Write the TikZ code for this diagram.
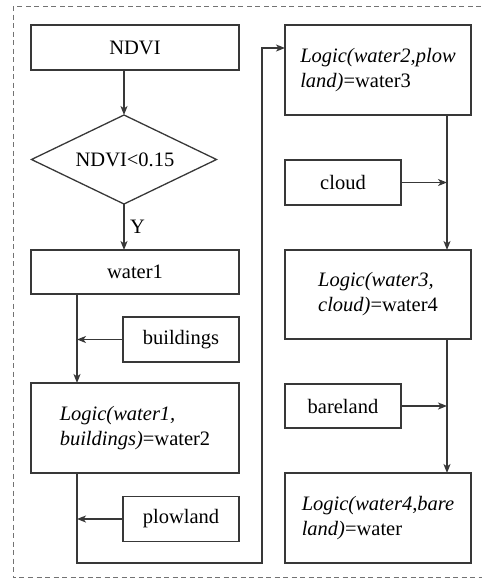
\documentclass[tikz,border=0pt]{standalone}
\usepackage{fontspec}
\setmainfont{Liberation Serif}
\usetikzlibrary{shapes.geometric,arrows.meta}
\begin{document}
\begin{tikzpicture}[x=1pt,y=-1pt,
  font=\fontsize{20.5}{25}\selectfont,
  every node/.style={inner sep=0pt, outer sep=0pt},
  box/.style={draw=black!78, line width=1.3pt, rectangle, align=left},
  wide/.style={box, minimum width=208pt},
  logicbox/.style={box, minimum width=186pt, minimum height=90pt},
  small/.style={box, minimum width=116pt, minimum height=45pt},
  decision/.style={draw=black!78, line width=1.3pt, diamond, aspect=2.08,
    minimum width=185pt, minimum height=89pt},
  link/.style={draw=black!78, line width=1.3pt},
  arr/.style={link, -{Stealth[length=9pt,width=7pt,inset=2.5pt]}},
  frame/.style={draw=black!55, line width=1pt, dash pattern=on 5pt off 3.5pt}
]
\useasboundingbox (0,0) rectangle (482,579);
\begin{scope}
  \clip (0,0) rectangle (482,579);
  \draw[frame] (13,6) rectangle (500,577.5);
\end{scope}

% left column
\node[wide, minimum height=45pt] (ndvi) at (135,47.5) {NDVI};
\node[decision] (dia) at (124,159.5) {};
\node at (125,160) {NDVI<0.15};
\node[wide, minimum height=44pt] (water1) at (135,272) {water1};
\node[small] (buildings) at (181,339.5) {buildings};
\node[wide, minimum height=90pt] (logic2) at (135,428)
  {\textit{Logic(water1,}\\\textit{buildings)}=water2};
\node[small] (plowland) at (181,519) {plowland};

% right column
\node[logicbox] (logic3) at (378,70)
  {\textit{Logic(water2,plow}\\\textit{land)}=water3};
\node[small] (cloud) at (343,182.5) {cloud};
\node[logicbox, minimum height=89pt] (logic4) at (378,294.5)
  {\textit{Logic(water3,}\\\textit{cloud)}=water4};
\node[small, minimum height=44pt] (bareland) at (343,406) {bareland};
\node[logicbox] (logic5) at (378,518)
  {\textit{Logic(water4,bare}\\\textit{land)}=water};

% junction lines
\coordinate (j1) at (77,0);
\coordinate (j2) at (447,0);
\coordinate (c1) at (262,563);
\coordinate (c2) at (262,48);

% connectors
\draw[arr] (ndvi.south -| dia.north) -- (dia.north);
\draw[arr] (dia.south) -- (dia.south |- water1.north)
  node[midway, right=6pt] (ylab) {Y};
\draw[arr] (water1.south -| j1) -- (logic2.north -| j1);
\draw[arr] (buildings.west) -- (buildings.west -| j1);
\draw[arr] (logic2.south -| j1) |- (c1) -- (c2) -- (c2 -| logic3.west);
\draw[arr] (plowland.west) -- (plowland.west -| j1);
\draw[arr] (logic3.south -| j2) -- (logic4.north -| j2);
\draw[arr] (cloud.east) -- (cloud.east -| j2);
\draw[arr] (logic4.south -| j2) -- (logic5.north -| j2);
\draw[arr] (bareland.east) -- (bareland.east -| j2);
\end{tikzpicture}
\end{document}
